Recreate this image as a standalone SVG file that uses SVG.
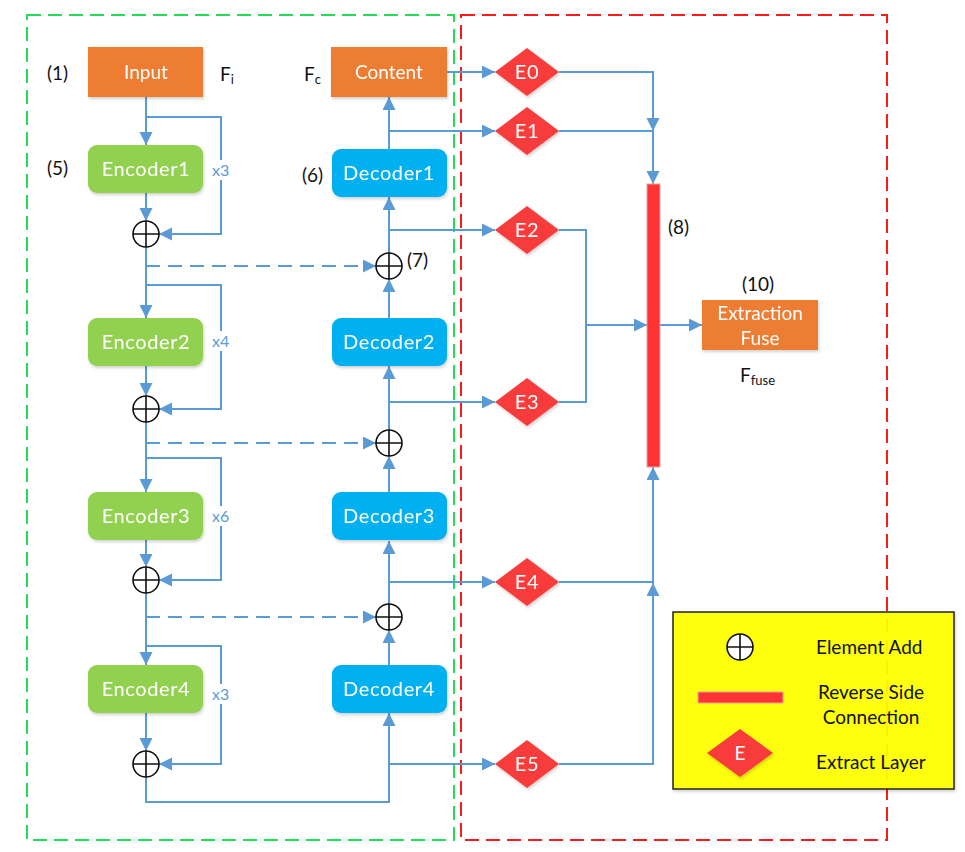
<svg xmlns="http://www.w3.org/2000/svg" width="965" height="852" viewBox="0 0 965 852">
  <style>
    .lbl { font-family: Lato, "Open Sans", sans-serif; font-size: 19px; fill: #111; }
    .wt { font-family: Lato, "Open Sans", sans-serif; font-size: 19px; fill: #fff; text-anchor: middle; }
    .big { font-size: 20px; letter-spacing: 0.6px; }
    .rep { font-family: Lato, "Open Sans", sans-serif; font-size: 16px; fill: #5B9BD5; }
    .enc { fill: #92D050; }
    .dec { fill: #00B0F0; }
    .org { fill: #ED7D31; }
    .ex { fill: #F83B3B; }
    .wire { fill: none; stroke: #5B9BD5; stroke-width: 2; }
    .arr { marker-end: url(#ah); }
    .dash { stroke-dasharray: 14 8; }
    .add circle { fill: #fff; stroke: #111; stroke-width: 1.6; }
    .add path { stroke: #111; stroke-width: 1.6; fill: none; }
  </style>
  <defs>
    <marker id="ah" markerUnits="userSpaceOnUse" markerWidth="14" markerHeight="14" refX="13" refY="6.5" orient="auto">
      <path d="M0,0 L13,6.5 L0,13 z" fill="#5B9BD5"/>
    </marker>
    <filter id="sh" x="-10%" y="-10%" width="130%" height="140%">
      <feDropShadow dx="1" dy="2" stdDeviation="1.5" flood-color="#000" flood-opacity="0.18"/>
    </filter>
  </defs>

  <rect x="0" y="0" width="965" height="852" fill="#fff"/>

  <!-- region frames -->
  <rect x="27" y="15" width="427" height="825" fill="none" stroke="#22DD55" stroke-width="2" stroke-dasharray="14 7"/>
  <rect x="461" y="15" width="426" height="825" fill="none" stroke="#FF1A1A" stroke-width="2" stroke-dasharray="14 7"/>

  <!-- connectors -->
  <g id="connectors">
    <!-- encoder column -->
    <path class="wire arr" d="M146,97 V145"/>
    <path class="wire arr" d="M146,117 H221 V234 H159"/>
    <path class="wire arr" d="M146,193 V221"/>
    <path class="wire arr" d="M146,247 V318"/>
    <path class="wire arr dash" d="M146,266 H376"/>
    <path class="wire arr" d="M146,285 H221 V409 H159"/>
    <path class="wire arr" d="M146,366 V396"/>
    <path class="wire arr" d="M146,422 V492"/>
    <path class="wire arr dash" d="M146,443 H376"/>
    <path class="wire arr" d="M146,458 H221 V580 H159"/>
    <path class="wire arr" d="M146,540 V567"/>
    <path class="wire arr" d="M146,593 V665"/>
    <path class="wire arr dash" d="M146,617 H376"/>
    <path class="wire arr" d="M146,646 H221 V764 H159"/>
    <path class="wire arr" d="M146,713 V751"/>
    <path class="wire arr" d="M146,777 V802 H389 V713"/>
    <!-- decoder column -->
    <path class="wire arr" d="M389,665 V630"/>
    <path class="wire arr" d="M389,604 V541"/>
    <path class="wire arr" d="M389,492 V456"/>
    <path class="wire arr" d="M389,430 V366"/>
    <path class="wire arr" d="M389,318 V279"/>
    <path class="wire arr" d="M389,253 V197"/>
    <path class="wire arr" d="M389,149 V97"/>
    <!-- taps into extract layers -->
    <path class="wire arr" d="M447,72 H495"/>
    <path class="wire arr" d="M389,131 H495"/>
    <path class="wire arr" d="M389,230 H495"/>
    <path class="wire arr" d="M389,402 H495"/>
    <path class="wire arr" d="M389,582 H495"/>
    <path class="wire arr" d="M389,764 H495"/>
    <!-- extract layers to reverse side connection -->
    <path class="wire arr" d="M559,72 H653 V131"/>
    <path class="wire arr" d="M559,131 H653 V184"/>
    <path class="wire" d="M559,230 H586 V402 H559"/>
    <path class="wire arr" d="M586,325 H647"/>
    <path class="wire arr" d="M660,325 H702"/>
    <path class="wire arr" d="M559,582 H653 V467"/>
    <path class="wire arr" d="M559,764 H653 V583"/>
  </g>

  <!-- source / content -->
  <g id="input" filter="url(#sh)">
    <rect class="org" x="88" y="47" width="115" height="50"/>
    <text class="wt" x="146" y="79">Input</text>
  </g>
  <g id="content" filter="url(#sh)">
    <rect class="org" x="331" y="47" width="116" height="50"/>
    <text class="wt" x="389" y="79">Content</text>
  </g>

  <!-- encoders -->
  <g id="encoder1" filter="url(#sh)">
    <rect class="enc" x="88" y="145" width="115" height="48" rx="9"/>
    <text class="wt big" x="146" y="176">Encoder1</text>
  </g>
  <g id="encoder2" filter="url(#sh)">
    <rect class="enc" x="88" y="318" width="115" height="48" rx="9"/>
    <text class="wt big" x="146" y="349">Encoder2</text>
  </g>
  <g id="encoder3" filter="url(#sh)">
    <rect class="enc" x="88" y="492" width="115" height="48" rx="9"/>
    <text class="wt big" x="146" y="523">Encoder3</text>
  </g>
  <g id="encoder4" filter="url(#sh)">
    <rect class="enc" x="88" y="665" width="115" height="48" rx="9"/>
    <text class="wt big" x="146" y="696">Encoder4</text>
  </g>

  <!-- decoders -->
  <g id="decoder1" filter="url(#sh)">
    <rect class="dec" x="332" y="149" width="115" height="48" rx="9"/>
    <text class="wt big" x="389" y="180">Decoder1</text>
  </g>
  <g id="decoder2" filter="url(#sh)">
    <rect class="dec" x="332" y="318" width="115" height="48" rx="9"/>
    <text class="wt big" x="389" y="349">Decoder2</text>
  </g>
  <g id="decoder3" filter="url(#sh)">
    <rect class="dec" x="332" y="492" width="115" height="48" rx="9"/>
    <text class="wt big" x="389" y="523">Decoder3</text>
  </g>
  <g id="decoder4" filter="url(#sh)">
    <rect class="dec" x="332" y="665" width="115" height="48" rx="9"/>
    <text class="wt big" x="389" y="696">Decoder4</text>
  </g>

  <!-- element add nodes -->
  <g id="add-e1" class="add"><circle cx="146" cy="234" r="13"/><path d="M133,234 H159 M146,221 V247"/></g>
  <g id="add-e2" class="add"><circle cx="146" cy="409" r="13"/><path d="M133,409 H159 M146,396 V422"/></g>
  <g id="add-e3" class="add"><circle cx="146" cy="580" r="13"/><path d="M133,580 H159 M146,567 V593"/></g>
  <g id="add-e4" class="add"><circle cx="146" cy="764" r="13"/><path d="M133,764 H159 M146,751 V777"/></g>
  <g id="add-d1" class="add"><circle cx="389" cy="266" r="13"/><path d="M376,266 H402 M389,253 V279"/></g>
  <g id="add-d2" class="add"><circle cx="389" cy="443" r="13"/><path d="M376,443 H402 M389,430 V456"/></g>
  <g id="add-d3" class="add"><circle cx="389" cy="617" r="13"/><path d="M376,617 H402 M389,604 V630"/></g>

  <!-- extract layers -->
  <g id="E0" filter="url(#sh)"><path class="ex" d="M495,72 L527,48 L559,72 L527,96 z"/><text class="wt big" x="527" y="79">E0</text></g>
  <g id="E1" filter="url(#sh)"><path class="ex" d="M495,131 L527,107 L559,131 L527,155 z"/><text class="wt big" x="527" y="138">E1</text></g>
  <g id="E2" filter="url(#sh)"><path class="ex" d="M495,230 L527,206 L559,230 L527,254 z"/><text class="wt big" x="527" y="237">E2</text></g>
  <g id="E3" filter="url(#sh)"><path class="ex" d="M495,402 L527,378 L559,402 L527,426 z"/><text class="wt big" x="527" y="409">E3</text></g>
  <g id="E4" filter="url(#sh)"><path class="ex" d="M495,582 L527,558 L559,582 L527,606 z"/><text class="wt big" x="527" y="589">E4</text></g>
  <g id="E5" filter="url(#sh)"><path class="ex" d="M495,764 L527,740 L559,764 L527,788 z"/><text class="wt big" x="527" y="771">E5</text></g>

  <!-- reverse side connection bar -->
  <g id="reverse-side">
    <rect x="647" y="184" width="13" height="283" fill="#FF3333" stroke="#E8A0A0" stroke-width="1"/>
  </g>

  <!-- extraction fuse -->
  <g id="extraction-fuse" filter="url(#sh)">
    <rect class="org" x="702" y="300" width="116" height="50"/>
    <text class="wt" x="760" y="320">Extraction</text>
    <text class="wt" x="760" y="345">Fuse</text>
  </g>

  <!-- annotations -->
  <g id="annotations">
    <text class="lbl" x="47" y="80">(1)</text>
    <text class="lbl" x="47" y="175">(5)</text>
    <text class="lbl" x="302" y="182">(6)</text>
    <text class="lbl" x="407" y="267">(7)</text>
    <text class="lbl" x="668" y="234">(8)</text>
    <text class="lbl" x="742" y="291">(10)</text>
    <text class="lbl" x="220" y="81">F<tspan font-size="13" dy="3">i</tspan></text>
    <text class="lbl" x="304" y="81">F<tspan font-size="13" dy="3">c</tspan></text>
    <text class="lbl" x="740" y="382">F<tspan font-size="13" dy="3">fuse</tspan></text>
    <!-- repeat counts sit on the skip lines with a white backing -->
    <rect x="211" y="160" width="21" height="20" fill="#fff"/>
    <text class="rep" x="212" y="176">x3</text>
    <rect x="211" y="331" width="21" height="20" fill="#fff"/>
    <text class="rep" x="212" y="347">x4</text>
    <rect x="211" y="506" width="21" height="20" fill="#fff"/>
    <text class="rep" x="212" y="522">x6</text>
    <rect x="211" y="684" width="21" height="20" fill="#fff"/>
    <text class="rep" x="212" y="700">x3</text>
  </g>

  <!-- legend -->
  <g id="legend">
    <rect x="673" y="612" width="281" height="177" fill="#FFFF00" fill-opacity="0.93" stroke="#222" stroke-width="1.5" filter="url(#sh)"/>
    <g class="add"><circle cx="740" cy="647" r="13"/><path d="M727,647 H753 M740,634 V660"/></g>
    <text class="lbl" x="816" y="654">Element Add</text>
    <rect x="698" y="692" width="85" height="11" fill="#FF3333" stroke="#E8A0A0" stroke-width="1"/>
    <text class="lbl" x="871" y="699" text-anchor="middle">Reverse Side</text>
    <text class="lbl" x="871" y="724" text-anchor="middle">Connection</text>
    <path class="ex" d="M707,753 L740,729 L773,753 L740,777 z" filter="url(#sh)"/>
    <text class="wt" x="740" y="760">E</text>
    <text class="lbl" x="816" y="769">Extract Layer</text>
  </g>
</svg>
